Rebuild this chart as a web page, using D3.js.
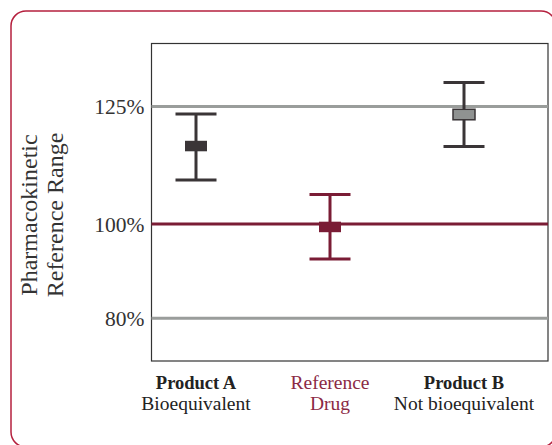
<!DOCTYPE html>
<html>
<head>
<meta charset="utf-8">
<script src="https://cdn.jsdelivr.net/npm/d3@7"></script>
<style>
  html, body { margin: 0; padding: 0; background: #fff; }
  svg { display: block; }
  text { font-family: "Liberation Serif", "Times New Roman", serif; }
</style>
</head>
<body>
<script>
// ---- data ----
const categories = ["Product A", "Reference Drug", "Product B"];
const titles = [["Product A", "Bioequivalent"], ["Reference", "Drug"], ["Product B", "Not bioequivalent"]];
const means = [116.6, 99.4, 123.3];
const lower = [109.4, 92.6, 116.5];
const upper = [123.4, 106.3, 130.1];
const refLines = [80, 100, 125];
const tickLabels = ["80%", "100%", "125%"];

// ---- styles ----
const W = 552, H = 445;
const dark = "#3a3537", crimson = "#7a1c35", grayLine = "#9a9d9b", grayBox = "#8f9291";
const markColor = [dark, crimson, dark];
const boxFill = [dark, crimson, grayBox];

const svg = d3.select("body").append("svg").attr("width", W).attr("height", H);

// outer rounded border
svg.append("rect")
  .attr("x", 11).attr("y", 11).attr("width", 545).attr("height", 436)
  .attr("rx", 15).attr("ry", 15)
  .attr("fill", "none").attr("stroke", "#b5203e").attr("stroke-width", 1.5);

const frame = { left: 151.5, right: 548, top: 43.5, bottom: 361 };

const y = d3.scaleLinear().domain([70.9, 138.4]).range([frame.bottom, frame.top]);
const x = d3.scalePoint().domain(categories).range([196, 464]);

// frame
svg.append("rect")
  .attr("x", frame.left).attr("y", frame.top)
  .attr("width", frame.right - frame.left).attr("height", frame.bottom - frame.top)
  .attr("fill", "none").attr("stroke", "#333").attr("stroke-width", 1.2);

// reference lines
svg.selectAll("line.ref").data(refLines).enter().append("line")
  .attr("class", "ref")
  .attr("x1", frame.left).attr("x2", frame.right)
  .attr("y1", d => y(d)).attr("y2", d => y(d))
  .attr("stroke", d => d === 100 ? crimson : grayLine)
  .attr("stroke-width", 3);

// y axis labels via d3 axis
const yAxis = d3.axisLeft(y).tickValues(refLines)
  .tickFormat((d, i) => tickLabels[i]).tickSize(0).tickPadding(7);
const gy = svg.append("g").attr("transform", `translate(${frame.left},0)`).call(yAxis);
gy.select(".domain").remove();
gy.selectAll("text")
  .attr("font-family", "Liberation Serif, serif")
  .attr("font-size", 21.5).attr("fill", "#333");

// y title
const yt = svg.append("text")
  .attr("transform", "translate(0,215) rotate(-90)")
  .attr("text-anchor", "middle").attr("fill", "#333").attr("font-size", 24);
yt.append("tspan").attr("x", 0).attr("y", 37).text("Pharmacokinetic");
yt.append("tspan").attr("x", 0).attr("y", 63).text("Reference Range");

// error bars
const capW = 41, boxW = 22, boxH = 10.5;
const g = svg.selectAll("g.bar").data(categories).enter().append("g").attr("class", "bar");
g.append("line")
  .attr("x1", d => x(d)).attr("x2", d => x(d))
  .attr("y1", (d, i) => y(upper[i])).attr("y2", (d, i) => y(lower[i]))
  .attr("stroke", (d, i) => markColor[i]).attr("stroke-width", 3);
g.append("line")
  .attr("x1", d => x(d) - capW / 2).attr("x2", d => x(d) + capW / 2)
  .attr("y1", (d, i) => y(upper[i])).attr("y2", (d, i) => y(upper[i]))
  .attr("stroke", (d, i) => markColor[i]).attr("stroke-width", 3);
g.append("line")
  .attr("x1", d => x(d) - capW / 2).attr("x2", d => x(d) + capW / 2)
  .attr("y1", (d, i) => y(lower[i])).attr("y2", (d, i) => y(lower[i]))
  .attr("stroke", (d, i) => markColor[i]).attr("stroke-width", 3);
g.append("rect")
  .attr("x", d => x(d) - boxW / 2).attr("y", (d, i) => y(means[i]) - boxH / 2)
  .attr("width", boxW).attr("height", boxH)
  .attr("fill", (d, i) => boxFill[i])
  .attr("stroke", (d, i) => i === 2 ? dark : "none").attr("stroke-width", 1.5);

// x labels
const lab = svg.selectAll("text.xl").data(categories).enter().append("text")
  .attr("class", "xl").attr("text-anchor", "middle").attr("font-size", 19.5)
  .attr("fill", (d, i) => i === 1 ? "#8b2a45" : "#222");
lab.append("tspan").attr("x", d => x(d)).attr("y", 389)
  .attr("font-weight", (d, i) => i === 1 ? "normal" : "bold")
  .attr("font-size", (d, i) => i === 1 ? 19.5 : 18.5)
  .text((d, i) => titles[i][0]);
lab.append("tspan").attr("x", d => x(d)).attr("y", 410)
  .text((d, i) => titles[i][1]);
</script>
</body>
</html>
